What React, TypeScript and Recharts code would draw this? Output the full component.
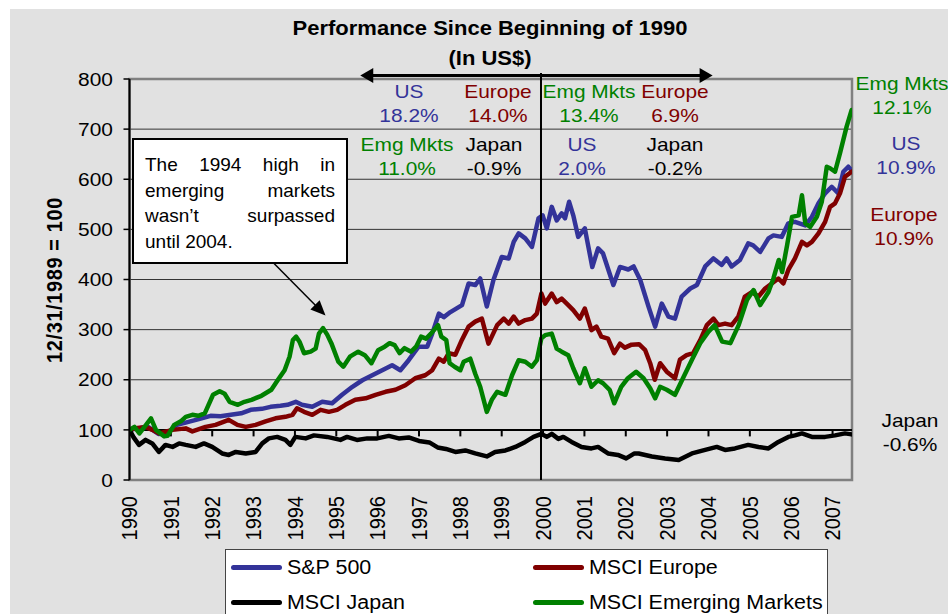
import React from 'react';
import { LineChart, Line, XAxis, YAxis, CartesianGrid, ReferenceLine, ReferenceArea } from 'recharts';

// [year fraction, index level] with 12/31/1989 = 100
const sp500: [number, number][] = [
  [1990.0, 100], [1990.2, 103], [1990.45, 106], [1990.7, 92], [1990.9, 93], [1991.15, 110], [1991.47, 117],
  [1991.7, 122], [1991.96, 128], [1992.2, 127], [1992.45, 130], [1992.7, 133], [1992.93, 140], [1993.2, 142],
  [1993.41, 146], [1993.65, 148], [1993.82, 150], [1994.02, 156], [1994.17, 150], [1994.42, 146], [1994.66, 156],
  [1994.9, 153], [1995.14, 170], [1995.39, 186], [1995.63, 199], [1995.87, 209], [1996.11, 219], [1996.35, 229],
  [1996.55, 219], [1996.75, 239], [1996.99, 266], [1997.2, 266], [1997.32, 292], [1997.48, 332], [1997.6, 325],
  [1997.76, 335], [1997.96, 345], [1998.04, 349], [1998.2, 392], [1998.36, 389], [1998.48, 402], [1998.64, 346],
  [1998.8, 399], [1999.0, 445], [1999.17, 442], [1999.29, 475], [1999.41, 492], [1999.57, 482], [1999.73, 465],
  [1999.89, 522], [1999.99, 528], [2000.09, 502], [2000.21, 545], [2000.33, 518], [2000.45, 532], [2000.53, 522],
  [2000.63, 555], [2000.73, 528], [2000.85, 485], [2001.01, 502], [2001.19, 425], [2001.33, 462], [2001.45, 452],
  [2001.7, 389], [2001.86, 425], [2002.06, 420], [2002.19, 426], [2002.35, 399], [2002.55, 346], [2002.71, 306],
  [2002.87, 352], [2003.03, 326], [2003.19, 322], [2003.35, 366], [2003.56, 382], [2003.72, 389], [2003.92, 426],
  [2004.12, 442], [2004.32, 429], [2004.44, 442], [2004.56, 426], [2004.76, 439], [2004.96, 472], [2005.08, 468],
  [2005.25, 455], [2005.45, 482], [2005.57, 488], [2005.77, 485], [2005.93, 512], [2006.09, 515], [2006.34, 508],
  [2006.5, 525], [2006.66, 552], [2006.82, 572], [2006.98, 585], [2007.14, 572], [2007.26, 615], [2007.38, 625],
  [2007.46, 618],
];

const msciEurope: [number, number][] = [
  [1990.0, 100], [1990.2, 104], [1990.39, 106], [1990.55, 100], [1990.71, 93], [1991.04, 100], [1991.36, 103],
  [1991.52, 97], [1991.84, 106], [1992.08, 110], [1992.4, 120], [1992.61, 110], [1992.81, 106], [1993.05, 110],
  [1993.29, 117], [1993.53, 123], [1993.77, 126], [1993.94, 130], [1994.05, 143], [1994.22, 136], [1994.42, 130],
  [1994.62, 140], [1994.82, 136], [1995.02, 140], [1995.22, 150], [1995.46, 160], [1995.71, 163], [1995.95, 170],
  [1996.19, 176], [1996.43, 180], [1996.67, 189], [1996.91, 203], [1997.15, 209], [1997.32, 219], [1997.48, 242],
  [1997.6, 236], [1997.72, 253], [1997.88, 250], [1998.04, 280], [1998.2, 306], [1998.36, 316], [1998.52, 322],
  [1998.68, 272], [1998.89, 309], [1999.05, 322], [1999.17, 312], [1999.29, 326], [1999.41, 312], [1999.57, 319],
  [1999.73, 322], [1999.85, 332], [1999.96, 372], [2000.05, 352], [2000.21, 372], [2000.33, 355], [2000.45, 362],
  [2000.61, 349], [2000.73, 339], [2000.89, 322], [2001.01, 342], [2001.17, 299], [2001.29, 306], [2001.41, 286],
  [2001.57, 282], [2001.72, 253], [2001.86, 272], [2001.98, 264], [2002.14, 270], [2002.32, 271], [2002.47, 259],
  [2002.59, 233], [2002.7, 200], [2002.83, 233], [2002.99, 216], [2003.19, 203], [2003.31, 240], [2003.47, 249],
  [2003.63, 253], [2003.8, 279], [2003.96, 309], [2004.12, 322], [2004.24, 309], [2004.4, 312], [2004.56, 309],
  [2004.72, 326], [2004.88, 366], [2005.05, 375], [2005.21, 366], [2005.37, 382], [2005.53, 392], [2005.69, 402],
  [2005.81, 392], [2005.93, 419], [2006.09, 442], [2006.26, 475], [2006.38, 468], [2006.5, 475], [2006.66, 492],
  [2006.82, 515], [2006.94, 545], [2007.06, 552], [2007.18, 572], [2007.3, 605], [2007.46, 615],
];

const msciJapan: [number, number][] = [
  [1990.0, 100], [1990.1, 85], [1990.23, 70], [1990.39, 80], [1990.55, 73], [1990.71, 56], [1990.87, 70],
  [1991.04, 66], [1991.2, 73], [1991.36, 70], [1991.6, 66], [1991.8, 73], [1992.0, 66], [1992.24, 53],
  [1992.4, 50], [1992.57, 56], [1992.81, 53], [1993.05, 56], [1993.21, 73], [1993.37, 83], [1993.57, 86],
  [1993.77, 80], [1993.89, 70], [1994.01, 86], [1994.26, 83], [1994.46, 89], [1994.78, 86], [1995.1, 80],
  [1995.26, 86], [1995.5, 80], [1995.75, 83], [1995.99, 83], [1996.27, 88], [1996.51, 83], [1996.75, 85],
  [1997.0, 78], [1997.25, 75], [1997.45, 65], [1997.65, 62], [1997.88, 56], [1998.12, 59], [1998.36, 53],
  [1998.64, 47], [1998.84, 56], [1999.09, 59], [1999.33, 66], [1999.57, 76], [1999.77, 86], [1999.96, 92],
  [2000.09, 86], [2000.21, 92], [2000.37, 82], [2000.49, 86], [2000.69, 76], [2000.93, 66], [2001.17, 63],
  [2001.33, 66], [2001.57, 53], [2001.81, 50], [2002.01, 43], [2002.21, 53], [2002.31, 53], [2002.63, 47],
  [2002.95, 43], [2003.28, 40], [2003.6, 53], [2003.92, 60], [2004.2, 66], [2004.4, 60], [2004.64, 63],
  [2004.96, 70], [2005.21, 66], [2005.45, 63], [2005.69, 76], [2005.93, 86], [2006.09, 89], [2006.26, 93],
  [2006.5, 86], [2006.82, 86], [2007.06, 89], [2007.3, 93], [2007.46, 91],
];

const msciEM: [number, number][] = [
  [1990.0, 100], [1990.12, 106], [1990.24, 93], [1990.4, 110], [1990.52, 123], [1990.64, 100], [1990.84, 87],
  [1990.92, 88], [1991.08, 110], [1991.24, 117], [1991.36, 126], [1991.52, 130], [1991.66, 128], [1991.82, 133],
  [1992.02, 170], [1992.18, 177], [1992.3, 172], [1992.42, 156], [1992.62, 150], [1992.78, 156], [1992.95, 160],
  [1993.19, 168], [1993.43, 180], [1993.59, 200], [1993.75, 219], [1993.87, 246], [1993.95, 279], [1994.03, 286],
  [1994.11, 276], [1994.22, 253], [1994.38, 256], [1994.5, 262], [1994.58, 292], [1994.68, 303], [1994.78, 290],
  [1994.88, 273], [1995.05, 236], [1995.17, 226], [1995.33, 246], [1995.53, 256], [1995.69, 249], [1995.85, 233],
  [1996.01, 259], [1996.17, 266], [1996.29, 273], [1996.41, 269], [1996.53, 253], [1996.65, 263], [1996.81, 256],
  [1996.93, 266], [1997.05, 286], [1997.17, 282], [1997.29, 292], [1997.46, 309], [1997.54, 286], [1997.66, 279],
  [1997.74, 233], [1997.86, 226], [1998.0, 219], [1998.08, 236], [1998.24, 242], [1998.36, 212], [1998.48, 186],
  [1998.64, 136], [1998.76, 160], [1998.89, 176], [1999.09, 170], [1999.25, 209], [1999.41, 239], [1999.57, 236],
  [1999.73, 226], [1999.85, 239], [1999.96, 283], [2000.05, 289], [2000.21, 292], [2000.33, 262], [2000.45, 256],
  [2000.61, 249], [2000.73, 223], [2000.89, 193], [2001.01, 223], [2001.17, 186], [2001.33, 199], [2001.45, 193],
  [2001.61, 180], [2001.72, 153], [2001.89, 186], [2002.05, 203], [2002.25, 216], [2002.43, 203], [2002.59, 183],
  [2002.71, 163], [2002.83, 186], [2002.99, 180], [2003.19, 170], [2003.4, 206], [2003.6, 240], [2003.8, 273],
  [2004.0, 296], [2004.15, 309], [2004.33, 276], [2004.53, 273], [2004.73, 309], [2004.93, 359], [2005.09, 379],
  [2005.25, 349], [2005.45, 375], [2005.57, 402], [2005.7, 439], [2005.78, 415], [2005.9, 468], [2006.02, 525],
  [2006.18, 528], [2006.26, 568], [2006.34, 512], [2006.46, 505], [2006.62, 525], [2006.74, 555], [2006.86, 625],
  [2006.94, 622], [2007.06, 615], [2007.18, 652], [2007.34, 705], [2007.46, 738],
];

const years = [1990, 1991, 1992, 1993, 1994, 1995, 1996, 1997, 1998, 1999, 2000, 2001, 2002, 2003, 2004, 2005, 2006, 2007];
const yTicks = [0, 100, 200, 300, 400, 500, 600, 700, 800];
const seriesNames = ['S&P 500', 'MSCI Europe', 'MSCI Japan', 'MSCI Emerging Markets'];

// annualised returns shown on the chart
const returnsTo2000 = { us: '18.2%', europe: '14.0%', em: '11.0%', japan: '-0.9%' };
const returnsFrom2000 = { em: '13.4%', europe: '6.9%', us: '2.0%', japan: '-0.2%' };
const returnsFull = { em: '12.1%', us: '10.9%', europe: '10.9%', japan: '-0.6%' };
const calloutLines = ['The 1994 high in', 'emerging markets', 'wasn’t surpassed', 'until 2004.'];

const BLUE = '#333399';
const RED = '#800000';
const GREEN = '#008000';
const BLACK = '#000000';
const FONT = '"Liberation Sans", Arial, sans-serif';
const END = 2007.47;

const rows = (s: [number, number][]) => s.map(([t, v]) => ({ t, v }));

const head = (x: number, y: number, ang: number, len: number, half: number) => {
  const bx = x - Math.cos(ang) * len;
  const by = y - Math.sin(ang) * len;
  const px = -Math.sin(ang) * half;
  const py = Math.cos(ang) * half;
  return `${x},${y} ${bx + px},${by + py} ${bx - px},${by - py}`;
};

const arrowShape = (both: boolean, width: number, len: number, half: number) => (props: any) => {
  const { x1, y1, x2, y2 } = props;
  const a = Math.atan2(y2 - y1, x2 - x1);
  const sx = both ? x1 + Math.cos(a) * len * 0.8 : x1;
  const sy = both ? y1 + Math.sin(a) * len * 0.8 : y1;
  const ex = x2 - Math.cos(a) * len * 0.8;
  const ey = y2 - Math.sin(a) * len * 0.8;
  return (
    <g>
      <line x1={sx} y1={sy} x2={ex} y2={ey} stroke="#000" strokeWidth={width} />
      <polygon points={head(x2, y2, a, len, half)} fill="#000" />
      {both && <polygon points={head(x1, y1, a + Math.PI, len, half)} fill="#000" />}
    </g>
  );
};

const YTick = (props: any) => {
  const { x, y, payload } = props;
  return (
    <text x={x} y={y} dy="0.35em" textAnchor="end" fontSize={19} fill="#000" fontFamily={FONT}
      transform={`translate(${x} 0) scale(1.1 1) translate(${-x} 0)`}>
      {payload.value}
    </text>
  );
};

const XTick = (props: any) => {
  const { x, y, payload } = props;
  return (
    <text x={0} y={0} dy="0.35em" textAnchor="end" fontSize={20} fill="#000" fontFamily={FONT}
      transform={`translate(${x} ${y}) rotate(-90) scale(1 1.1)`}>
      {payload.value}
    </text>
  );
};

const Note = ({ x, y, color, lines }: { x: number; y: number; color: string; lines: string[] }) => (
  <div style={{
    position: 'absolute', left: x - 100, top: y - 12, width: 200, textAlign: 'center', color,
    fontSize: 19, lineHeight: '24px', transform: 'scaleX(1.1)', whiteSpace: 'nowrap',
  }}>
    {lines.map((l) => <div key={l}>{l}</div>)}
  </div>
);

const LegendItem = ({ x, y, color, label }: { x: number; y: number; color: string; label: string }) => (
  <div style={{ position: 'absolute', left: x, top: y - 12, height: 24, display: 'flex', alignItems: 'center' }}>
    <div style={{ width: 51, height: 5, borderRadius: 3, background: color }} />
    <div style={{ marginLeft: 5, fontSize: 19.5, lineHeight: '24px', transform: 'scaleX(1.1)', transformOrigin: 'left center', whiteSpace: 'nowrap' }}>{label}</div>
  </div>
);

export default function App() {
  const lineProps = { type: 'linear' as const, dataKey: 'v', dot: false, strokeWidth: 4.5, isAnimationActive: false, strokeLinejoin: 'round' as const, strokeLinecap: 'round' as const };
  return (
    <div style={{ position: 'absolute', left: 0, top: 0, width: 948, height: 614, background: '#fff', overflow: 'hidden', fontFamily: FONT, color: '#000' }}>
      <div style={{ position: 'absolute', left: 10, top: 9, right: 0, bottom: 0, background: '#e1e1e1' }} />
      <div style={{ position: 'absolute', left: 0, top: 0 }}>
        <LineChart width={948} height={614} margin={{ top: 79, right: 96, bottom: 74, left: 69.5 }}>
          <CartesianGrid vertical={false} stroke="#333" strokeWidth={1} />
          <XAxis type="number" dataKey="t" domain={[1990, END]} ticks={years} allowDataOverflow
            axisLine={false} tickLine={false} tickSize={0} tickMargin={16} height={60} tick={<XTick />} />
          <YAxis type="number" domain={[0, 800]} ticks={yTicks} width={60} tickSize={6} tickMargin={10.5}
            axisLine={{ stroke: '#000', strokeWidth: 2 }} tickLine={{ stroke: '#000', strokeWidth: 1.5 }} tick={<YTick />} />
          <ReferenceArea x1={1990} x2={END} y1={0} y2={800} fill="none" stroke="#808080" strokeWidth={2.5} ifOverflow="visible" />
          <ReferenceLine y={100} stroke="#000" strokeWidth={2} />
          {years.slice(1).map((yr) => (
            <ReferenceLine key={yr} segment={[{ x: yr, y: 100 }, { x: yr, y: 87 }]} stroke="#000" strokeWidth={2} ifOverflow="visible" />
          ))}
          <Line {...lineProps} data={rows(sp500)} stroke={BLUE} name={seriesNames[0]} />
          <Line {...lineProps} data={rows(msciEurope)} stroke={RED} name={seriesNames[1]} />
          <Line {...lineProps} data={rows(msciJapan)} stroke={BLACK} name={seriesNames[2]} />
          <Line {...lineProps} data={rows(msciEM)} stroke={GREEN} name={seriesNames[3]} />
          <ReferenceLine segment={[{ x: 1999.95, y: 0 }, { x: 1999.95, y: 812 }]} stroke="#000" strokeWidth={2} ifOverflow="visible" />
          <ReferenceLine segment={[{ x: 1995.58, y: 807 }, { x: 2004.1, y: 807 }]} ifOverflow="visible" shape={arrowShape(true, 3, 13, 7.5)} />
          <ReferenceLine segment={[{ x: 1993.46, y: 435 }, { x: 1994.74, y: 328 }]} ifOverflow="visible" shape={arrowShape(false, 1.5, 15, 6.5)} />
        </LineChart>
      </div>

      <div style={{ position: 'absolute', left: 290, top: 13, width: 400, textAlign: 'center', fontWeight: 'bold', fontSize: 20, lineHeight: '30px', transform: 'scaleX(1.1)' }}>
        <div>Performance Since Beginning of 1990</div>
        <div>(In US$)</div>
      </div>

      <div style={{
        position: 'absolute', left: -46, top: 268, width: 200, height: 24, lineHeight: '24px', textAlign: 'center',
        fontWeight: 'bold', fontSize: 20, letterSpacing: 0.6, transform: 'rotate(-90deg) scaleY(1.1)', whiteSpace: 'nowrap',
      }}>12/31/1989 = 100</div>

      <Note x={409} y={92} color={BLUE} lines={['US', returnsTo2000.us]} />
      <Note x={498} y={92} color={RED} lines={['Europe', returnsTo2000.europe]} />
      <Note x={407} y={145} color={GREEN} lines={['Emg Mkts', returnsTo2000.em]} />
      <Note x={494} y={145} color={BLACK} lines={['Japan', returnsTo2000.japan]} />
      <Note x={589} y={92} color={GREEN} lines={['Emg Mkts', returnsFrom2000.em]} />
      <Note x={675} y={92} color={RED} lines={['Europe', returnsFrom2000.europe]} />
      <Note x={582} y={145} color={BLUE} lines={['US', returnsFrom2000.us]} />
      <Note x={675} y={145} color={BLACK} lines={['Japan', returnsFrom2000.japan]} />
      <Note x={902} y={84} color={GREEN} lines={['Emg Mkts', returnsFull.em]} />
      <Note x={906} y={144} color={BLUE} lines={['US', returnsFull.us]} />
      <Note x={904} y={215} color={RED} lines={['Europe', returnsFull.europe]} />
      <Note x={910} y={421} color={BLACK} lines={['Japan', returnsFull.japan]} />

      <div style={{
        position: 'absolute', left: 132, top: 138, width: 216, height: 126, boxSizing: 'border-box',
        background: '#fff', border: '2px solid #000', padding: '12px 11px 0 11px', fontSize: 19, lineHeight: '25.7px',
      }}>
        {calloutLines.map((l, i) => (
          <div key={l} style={{ textAlign: i < calloutLines.length - 1 ? 'justify' : 'left', textAlignLast: i < calloutLines.length - 1 ? 'justify' : 'left', whiteSpace: 'nowrap' }}>{l}</div>
        ))}
      </div>

      <div style={{ position: 'absolute', left: 225, top: 549, width: 603, height: 90, boxSizing: 'border-box', background: '#fff', border: '1.5px solid #444' }} />
      <LegendItem x={231} y={567} color={BLUE} label={seriesNames[0]} />
      <LegendItem x={533} y={567} color={RED} label={seriesNames[1]} />
      <LegendItem x={231} y={602} color={BLACK} label={seriesNames[2]} />
      <LegendItem x={533} y={602} color={GREEN} label={seriesNames[3]} />
    </div>
  );
}
